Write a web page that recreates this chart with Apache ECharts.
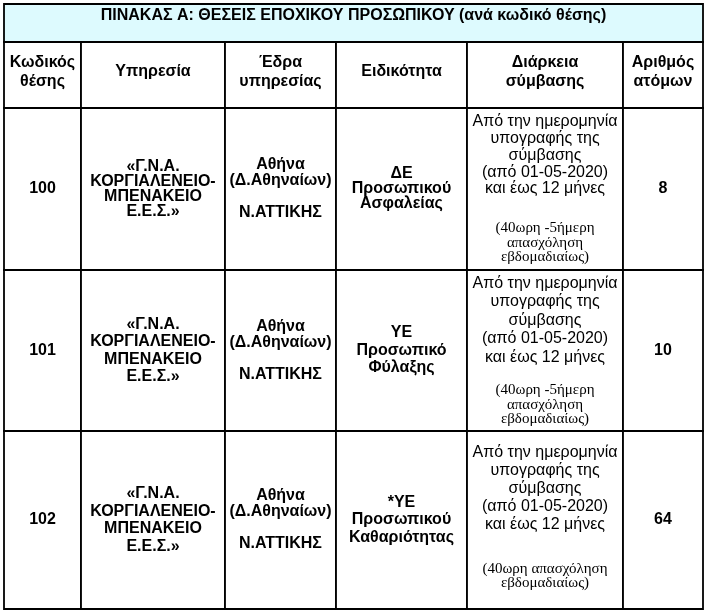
<!DOCTYPE html>
<html><head><meta charset="utf-8">
<script src="https://cdn.jsdelivr.net/npm/echarts@6/dist/echarts.min.js"></script>
<style>html,body{margin:0;padding:0;background:#fff}#c{width:707px;height:613px}</style>
</head><body><div id="c"></div>
<script>
// ---- data ----
const title = 'ΠΙΝΑΚΑΣ Α: ΘΕΣΕΙΣ ΕΠΟΧΙΚΟΥ ΠΡΟΣΩΠΙΚΟΥ (ανά κωδικό θέσης)';
const headers = ['Κωδικός\nθέσης', 'Υπηρεσία', 'Έδρα\nυπηρεσίας', 'Ειδικότητα', 'Διάρκεια\nσύμβασης', 'Αριθμός\nατόμων'];
const codes = ['100', '101', '102'];
const services = [
  '«Γ.Ν.Α.\nΚΟΡΓΙΑΛΕΝΕΙΟ-\nΜΠΕΝΑΚΕΙΟ\nΕ.Ε.Σ.»',
  '«Γ.Ν.Α.\nΚΟΡΓΙΑΛΕΝΕΙΟ-\nΜΠΕΝΑΚΕΙΟ\nΕ.Ε.Σ.»',
  '«Γ.Ν.Α.\nΚΟΡΓΙΑΛΕΝΕΙΟ-\nΜΠΕΝΑΚΕΙΟ\nΕ.Ε.Σ.»'
];
const seats = [
  'Αθήνα\n(Δ.Αθηναίων)\n\nΝ.ΑΤΤΙΚΗΣ',
  'Αθήνα\n(Δ.Αθηναίων)\n\nΝ.ΑΤΤΙΚΗΣ',
  'Αθήνα\n(Δ.Αθηναίων)\n\nΝ.ΑΤΤΙΚΗΣ'
];
const specialties = ['ΔΕ\nΠροσωπικού\nΑσφαλείας', 'ΥΕ\nΠροσωπικό\nΦύλαξης', '*ΥΕ\nΠροσωπικού\nΚαθαριότητας'];
const durationMain = [
  'Από την ημερομηνία\nυπογραφής της\nσύμβασης\n(από 01-05-2020)\nκαι έως 12 μήνες',
  'Από την ημερομηνία\nυπογραφής της\nσύμβασης\n(από 01-05-2020)\nκαι έως 12 μήνες',
  'Από την ημερομηνία\nυπογραφής της\nσύμβασης\n(από 01-05-2020)\nκαι έως 12 μήνες'
];
const durationNotes = [
  '(40ωρη -5ήμερη\nαπασχόληση\nεβδομαδιαίως)',
  '(40ωρη -5ήμερη\nαπασχόληση\nεβδομαδιαίως)',
  '(40ωρη απασχόληση\nεβδομαδιαίως)'
];
const persons = [8, 10, 64];

// ---- layout (axis units) ----
const colEdges = [0, 77, 221, 332, 463, 619, 699];
const rowEdges = [0, 38, 104, 266, 427, 605];
const boldLH = [15, 17.5, 17.5];
const durLH = [16.7, 18.5, 18];
const durGap = [23.7, 16.5, 27.75];
const durDy = [0, 0, -3];

const SANS = '"Liberation Sans", Arial, sans-serif';
const SERIF = '"Liberation Serif", "Times New Roman", serif';
const BOLD = 'bold 16px ' + SANS;

const cells = [];
// title
cells.push({x0: colEdges[0], x1: colEdges[6], y0: rowEdges[0], y1: rowEdges[1], fill: '#ddfafe',
  text: title, font: BOLD, lh: 16, vAlign: 'top', dy: 4});
// headers
headers.forEach((h, c) => cells.push({x0: colEdges[c], x1: colEdges[c + 1], y0: rowEdges[1], y1: rowEdges[2],
  fill: '#fff', text: h, font: BOLD, lh: 19, dy: -3}));
// body
codes.forEach((code, r) => {
  const y0 = rowEdges[r + 2], y1 = rowEdges[r + 3];
  const rowTexts = [code, services[r], seats[r], specialties[r], null, String(persons[r])];
  rowTexts.forEach((t, c) => {
    const cell = {x0: colEdges[c], x1: colEdges[c + 1], y0, y1, fill: '#fff', font: BOLD, dy: 0};
    if (c === 4) {
      const main = durationMain[r].split('\n').map(s => '{s|' + s + '}');
      const notes = durationNotes[r].split('\n').map(s => '{t|' + s + '}');
      cell.text = main.concat(['{g| }'], notes).join('\n');
      cell.font = 'normal 16px ' + SANS;
      cell.rich = {
        s: {font: 'normal 16px ' + SANS, lineHeight: durLH[r], align: 'center', fill: '#000'},
        g: {font: 'normal 1px ' + SANS, lineHeight: durGap[r], align: 'center'},
        t: {font: 'normal 15px ' + SERIF, lineHeight: 14.5, align: 'center', fill: '#000'}
      };
      cell.dy = durDy[r];
    } else {
      cell.text = t;
      cell.lh = (c === 2) ? 16 : boldLH[r];
    }
    cells.push(cell);
  });
});

const chart = echarts.init(document.getElementById('c'), null, {renderer: 'canvas'});
chart.setOption({
  animation: false,
  backgroundColor: '#fff',
  grid: {left: 4, top: 4, width: 699, height: 605},
  xAxis: {type: 'value', min: 0, max: 699, show: false},
  yAxis: {type: 'value', min: 0, max: 605, inverse: true, show: false},
  series: [{
    type: 'custom',
    coordinateSystem: 'cartesian2d',
    encode: {x: [0, 1], y: [2, 3]},
    data: cells.map(c => [c.x0, c.x1, c.y0, c.y1]),
    renderItem: function (params, api) {
      const c = cells[params.dataIndex];
      const p0 = api.coord([api.value(0), api.value(2)]);
      const p1 = api.coord([api.value(1), api.value(3)]);
      const x = Math.min(p0[0], p1[0]), y = Math.min(p0[1], p1[1]);
      const w = Math.abs(p1[0] - p0[0]), h = Math.abs(p1[1] - p0[1]);
      const top = c.vAlign === 'top';
      const style = {
        text: c.text, align: 'center', verticalAlign: top ? 'top' : 'middle', fill: '#000', font: c.font
      };
      if (c.rich) style.rich = c.rich; else style.lineHeight = c.lh;
      return {type: 'group', children: [
        {type: 'rect', shape: {x, y, width: w, height: h}, style: {fill: c.fill, stroke: '#000', lineWidth: 1.8}},
        {type: 'text', x: x + w / 2, y: (top ? y : y + h / 2) + c.dy, style}
      ]};
    }
  }]
});
</script></body></html>
